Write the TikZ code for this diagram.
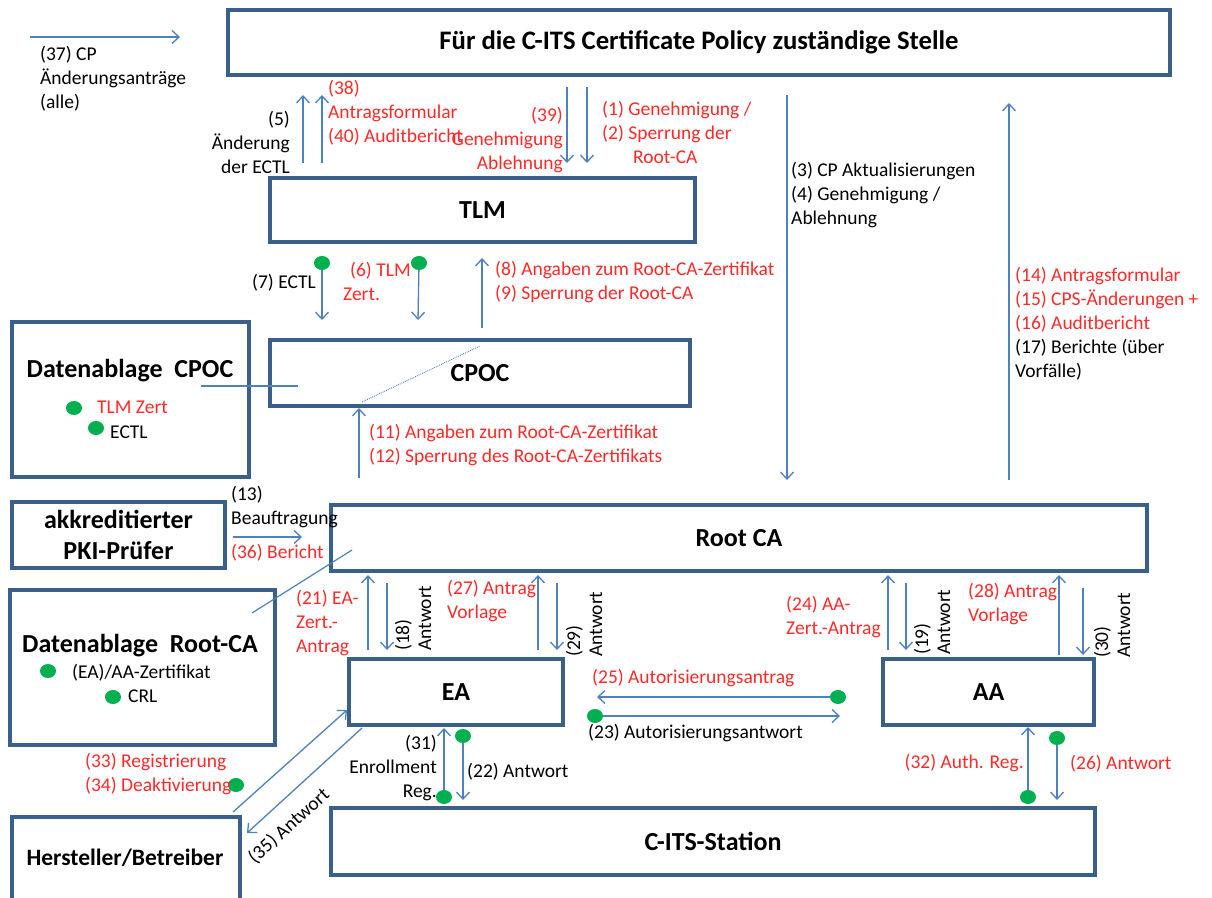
\documentclass[tikz,border=0pt]{standalone}
\usepackage{fontspec}
\setmainfont{Carlito}
\usetikzlibrary{arrows.meta,shapes.geometric}
\definecolor{boxc}{HTML}{3A5F8B}
\definecolor{arrc}{HTML}{4F81BD}
\definecolor{redt}{HTML}{FF2A2A}
\definecolor{dotc}{HTML}{00B050}
\newcommand\lblf{\fontsize{19.5}{24}\selectfont}
\newcommand\rotf{\fontsize{19.5}{22}\selectfont}
\newcommand\titlef{\fontsize{26}{31}\selectfont\bfseries}
\begin{document}
\begin{tikzpicture}[x=1pt,y=-1pt,
  box/.style={draw=boxc, line width=3.5pt, fill=white, inner sep=0pt, font=\titlef, align=center},
  ttl/.style={font=\titlef, inner sep=0pt, align=center},
  arr/.style={draw=arrc, line width=1.3pt, -{Straight Barb[length=7pt,width=13pt]}},
  ln/.style={draw=arrc, line width=1.2pt},
  lbl/.style={font=\lblf, inner sep=0pt, align=left},
  rlbl/.style={font=\rotf, inner sep=0pt, align=left, rotate=90, anchor=base west},
  rl/.style={text=redt},
  dot/.style={ellipse, fill=dotc, minimum width=16pt, minimum height=14pt, inner sep=0pt},
]
\clip (0,0) rectangle (1212,897);
\fill[white] (0,0) rectangle (1212,897);

% ---------- boxes ----------
\node[box, minimum width=942pt, minimum height=65pt, font=\fontsize{26.7}{31}\selectfont\bfseries] (cpa) at (699,42.5) {Für die C-ITS Certificate Policy zuständige Stelle};
\node[box, minimum width=425pt, minimum height=64pt] (tlm) at (482.5,210) {TLM};
\node[box, minimum width=420pt, minimum height=66pt] (cpoc) at (480,373) {CPOC};
\node[box, minimum width=237pt, minimum height=155pt] (dcpoc) at (130.5,399.5) {};
\node[box, minimum width=213pt, minimum height=66pt] (pki) at (118.5,535) {akkreditierter\\PKI-Prüfer};
\node[box, minimum width=265pt, minimum height=155pt] (drca) at (142.5,667.5) {};
\node[box, minimum width=816pt, minimum height=66pt] (rca) at (739,538) {Root CA};
\node[box, minimum width=214pt, minimum height=66pt] (ea) at (456,692) {EA};
\node[box, minimum width=211pt, minimum height=66pt] (aa) at (988.5,692) {AA};
\node[box, minimum width=764pt, minimum height=67pt] (cits) at (713,841.5) {C-ITS-Station};
\node[box, minimum width=228pt, minimum height=110pt] (hb) at (126,872) {};

\node[ttl] (dcpoct) at (130,371) {Datenablage\ \ CPOC};
\node[ttl] (drcat) at (140,646) {Datenablage\ \ Root-CA};
\node[ttl, font=\fontsize{23.5}{31}\selectfont\bfseries] (hbt) at (125,858) {Hersteller/Betreiber};

% ---------- plain lines ----------
\draw[ln] (dcpoc.center |- 0,386) ++(70,0) -- (298,386);
\draw[draw=arrc, line width=0.9pt, densely dotted] (362,402) -- (480,346);
\draw[ln] (252,613) -- (352,550);

% ---------- arrows ----------
\draw[arr] (30,37) -- (180,37);
\draw[arr] (303,163) -- (303,95);
\draw[arr] (322,163) -- (322,95);
\draw[arr] (567,87) -- (567,163);
\draw[arr] (587,87) -- (587,163);
\draw[arr] (787,95) -- (787,480);
\draw[arr] (1009,480) -- (1009,103);
\draw[arr] (482,328) -- (482,258);
\draw[arr] (359,478) -- (359,408);
\draw[arr] (233,537) -- (302,537);
% EA / Root CA
\draw[arr] (368,650) -- (368,575);
\draw[arr] (387,583) -- (387,650);
\draw[arr] (538,650) -- (538,575);
\draw[arr] (557,583) -- (557,650);
% AA / Root CA
\draw[arr] (888,650) -- (888,575);
\draw[arr] (906,583) -- (906,650);
\draw[arr] (1059,655) -- (1059,575);
\draw[arr] (1083,588) -- (1083,655);
% Hersteller
\draw[arr] (233,812) -- (347,710);
\draw[arr] (362,728) -- (247,833);

% ---------- dots and dotted arrows ----------
\coordinate (d7) at (322,263);
\coordinate (d6) at (419,263);
\coordinate (d25) at (838,697);
\coordinate (d23) at (595,716);
\coordinate (d31) at (444,797);
\coordinate (d22) at (463,736);
\coordinate (d32) at (1028,797);
\coordinate (d26) at (1057,738);
\draw[arr] (d7) -- (322,320);
\draw[arr] (d6) -- (418,320);
\draw[arr] (d25) -- (597,697);
\draw[arr] (d23) -- (840,716);
\draw[arr] (d31) -- (444,728);
\draw[arr] (d22) -- (463,800);
\draw[arr] (d32) -- (1028,727);
\draw[arr] (d26) -- (1057,800);
\node[dot] (n7) at (d7) {};
\node[dot] (n6) at (d6) {};
\node[dot] (n25) at (d25) {};
\node[dot] (n23) at (d23) {};
\node[dot] (n31) at (d31) {};
\node[dot] (n22) at (d22) {};
\node[dot] (n32) at (d32) {};
\node[dot] (n26) at (d26) {};
\node[dot] (n34) at (236,785) {};
\node[dot] (dc1) at (74,408) {};
\node[dot] (dc2) at (96,428) {};
\node[dot] (dr1) at (48,671) {};
\node[dot] (dr2) at (113,697) {};

% ---------- labels (base = last line) ----------
\node[lbl, anchor=base west] (l37) at (40,108) {(37) CP\\Änderungsanträge\\(alle)};
\node[lbl, anchor=base east, align=right] (l5) at (290,173) {(5)\\Änderung\\der ECTL};
\node[lbl, rl, anchor=base west] (l38) at (328,142) {(38)\\Antragsformular\\(40) Auditbericht};
\node[lbl, rl, anchor=base east, align=right] (l39) at (563,169) {(39)\\Genehmigung\\Ablehnung};
\node[lbl, rl, anchor=base west] (l1) at (602,163) {(1) Genehmigung /\\(2) Sperrung der\\\hspace*{31pt}Root-CA};
\node[lbl, anchor=base west] (l3) at (791,224) {(3) CP Aktualisierungen\\(4) Genehmigung /\\Ablehnung};
\node[lbl, anchor=base west] (l14) at (1015,377) {\textcolor{redt}{(14) Antragsformular}\\\textcolor{redt}{(15) CPS-Änderungen +}\\\textcolor{redt}{(16) Auditbericht}\\(17) Berichte (über\\Vorfälle)};
\node[lbl, anchor=base east] (l7) at (316,288) {(7) ECTL};
\node[lbl, rl, anchor=base west] (l6) at (343,300) {\hspace*{7pt}(6) TLM\\Zert.};
\node[lbl, rl, anchor=base west] (l8) at (495,299) {(8) Angaben zum Root-CA-Zertifikat\\(9) Sperrung der Root-CA};
\node[lbl, rl, anchor=base west] (l11) at (369,462) {(11) Angaben zum Root-CA-Zertifikat\\(12) Sperrung des Root-CA-Zertifikats};
\node[lbl, anchor=base west] (l13) at (231,524) {(13)\\Beauftragung};
\node[lbl, rl, anchor=base west] (l36) at (231,558) {(36) Bericht};
\node[lbl, rl, anchor=base west] (lct) at (97,413) {TLM Zert};
\node[lbl, anchor=base west] (lce) at (110,438) {ECTL};
\node[lbl, anchor=base west] (lrz) at (72,678) {(EA)/AA-Zertifikat};
\node[lbl, anchor=base west] (lrc) at (128,702) {CRL};
\node[lbl, rl, anchor=base west] (l21) at (296,652) {(21) EA-\\Zert.-\\Antrag};
\node[lbl, rl, anchor=base west] (l27) at (447,618) {(27) Antrag\\Vorlage};
\node[lbl, rl, anchor=base west] (l24) at (786,634) {(24) AA-\\Zert.-Antrag};
\node[lbl, rl, anchor=base west] (l28) at (968,621) {(28) Antrag\\Vorlage};
\node[rlbl] (l18) at (431,651) {(18)\\Antwort};
\node[rlbl] (l29) at (602,657) {(29)\\Antwort};
\node[rlbl] (l19) at (950,655) {(19)\\Antwort};
\node[rlbl] (l30) at (1130,658) {(30)\\Antwort};
\node[lbl, rl, anchor=base west] (l25) at (592,683) {(25) Autorisierungsantrag};
\node[lbl, anchor=base west] (l23) at (588,738) {(23) Autorisierungsantwort};
\node[lbl, anchor=base east, align=right] (l31) at (437,797) {(31)\\Enrollment\\Reg.};
\node[lbl, anchor=base west] (l22) at (467,777) {(22) Antwort};
\node[lbl, rl, anchor=base east] (l32) at (1024,768) {(32) Auth. Reg.};
\node[lbl, rl, anchor=base west] (l26) at (1070,769) {(26) Antwort};
\node[lbl, rl, anchor=base west] (l33) at (85,791) {(33) Registrierung\\(34) Deaktivierung};
\node[lbl, rotate=42, anchor=center] (l35) at (289,826) {(35) Antwort};
\end{tikzpicture}
\end{document}
